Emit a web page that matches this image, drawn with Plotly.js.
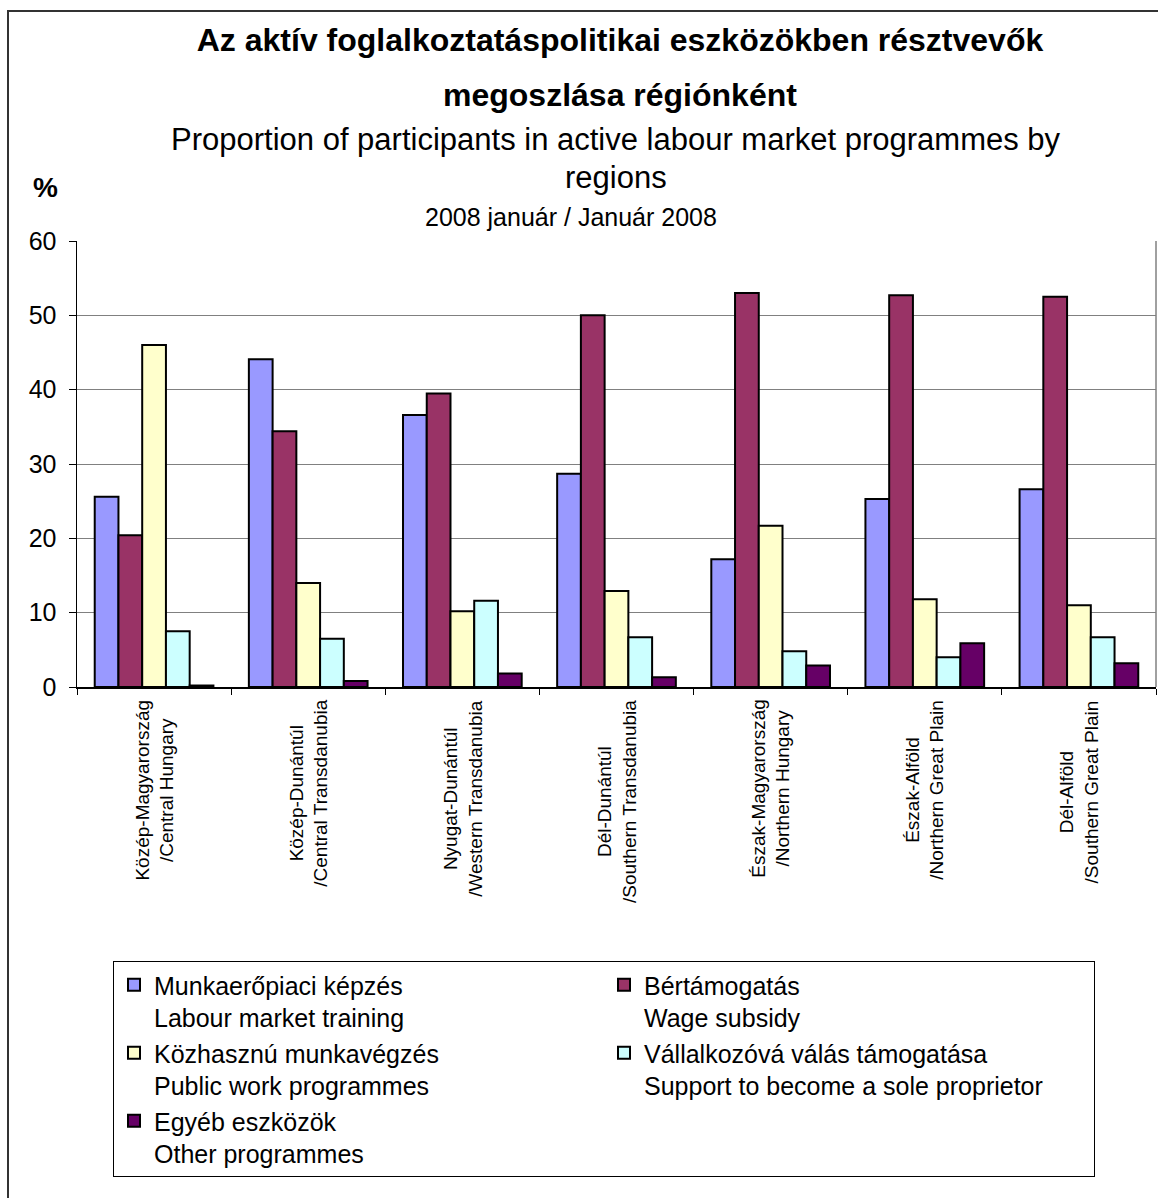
<!DOCTYPE html>
<html>
<head>
<meta charset="utf-8">
<script src="https://cdn.plot.ly/plotly-3.0.1.min.js"></script>
<style>
  html, body { margin: 0; padding: 0; background: #ffffff; }
  #chart { width: 1158px; height: 1198px; }
</style>
</head>
<body>
<div id="chart"></div>
<script>
const categories = [
  "Közép-Magyarország<br>/Central Hungary",
  "Közép-Dunántúl<br>/Central Transdanubia",
  "Nyugat-Dunántúl<br>/Western Transdanubia",
  "Dél-Dunántúl<br>/Southern Transdanubia",
  "Észak-Magyarország<br>/Northern Hungary",
  "Észak-Alföld<br>/Northern Great Plain",
  "Dél-Alföld<br>/Southern Great Plain"
];

const seriesNames = [
  "Munkaerőpiaci képzés<br>Labour market training",
  "Bértámogatás<br>Wage subsidy",
  "Közhasznú munkavégzés<br>Public work programmes",
  "Vállalkozóvá válás támogatása<br>Support to become a sole proprietor",
  "Egyéb eszközök<br>Other programmes"
];

const training      = [25.6, 44.1, 36.6, 28.7, 17.2, 25.3, 26.6];
const wageSubsidy   = [20.4, 34.4, 39.5, 50.0, 53.0, 52.7, 52.5];
const publicWork    = [46.0, 14.0, 10.2, 12.9, 21.7, 11.8, 11.0];
const soleProprietor= [7.5, 6.5, 11.6, 6.7, 4.8, 4.0, 6.7];
const other         = [0.2, 0.8, 1.8, 1.3, 2.9, 5.9, 3.2];

const yTicks = [0, 10, 20, 30, 40, 50, 60];

const titleMain = "<b>Az aktív foglalkoztatáspolitikai eszközökben résztvevők</b>";
const titleMain2 = "<b>megoszlása régiónként</b>";
const titleEn1 = "Proportion of participants in active labour market programmes by";
const titleEn2 = "regions";
const titleDate = "2008 január / Január 2008";
const yUnit = "<b>%</b>";

const colors = ["#9999FF", "#993366", "#FFFFCC", "#CCFFFF", "#660066"];
const values = [training, wageSubsidy, publicWork, soleProprietor, other];

const FONT = "Liberation Sans, Arial, Helvetica, sans-serif";

const traces = values.map((v, i) => ({
  type: "bar",
  name: seriesNames[i],
  x: categories,
  y: v,
  marker: { color: colors[i], line: { color: "#000000", width: 2 } },
  hoverinfo: "x+y+name"
}));

// plot area geometry in pixels
const L = 77, R = 2, T = 241, B = 511;
const W = 1158, H = 1198;
const pw = W - L - R, ph = H - T - B;
const px2x = (px) => (px - L) / pw;
const py2y = (py) => (H - B - py) / ph;

// category labels, centred multi-line, placed on the category axis
const categoryLabels = categories.map((c) => ({
  text: c,
  xref: "x", yref: "paper",
  x: c, y: py2y(698),
  xanchor: "center", yanchor: "top",
  textangle: -90, align: "center",
  showarrow: false,
  font: { family: FONT, size: 19, color: "#000000" }
}));

const layout = {
  width: W,
  height: H,
  margin: { l: L, r: R, t: T, b: B, pad: 0 },
  paper_bgcolor: "#ffffff",
  plot_bgcolor: "#ffffff",
  font: { family: FONT, color: "#000000", size: 25 },
  barmode: "group",
  bargap: 0.23,
  bargroupgap: 0,
  showlegend: true,
  title: {
    text: titleMain,
    font: { family: FONT, size: 32, color: "#000000" },
    x: px2x(620), xref: "paper", xanchor: "center",
    y: 1 - 40 / H, yref: "container", yanchor: "middle"
  },
  xaxis: {
    type: "category",
    tickson: "boundaries",
    ticks: "outside",
    ticklen: 6,
    tickcolor: "#000000",
    showticklabels: false,
    showline: true,
    linecolor: "#000000",
    linewidth: 1.5,
    showgrid: false,
    zeroline: false,
    fixedrange: true
  },
  yaxis: {
    range: [0, 60],
    tickvals: yTicks,
    ticktext: yTicks.map(String),
    ticks: "outside",
    ticklen: 7,
    tickcolor: "#000000",
    ticklabelstandoff: 7,
    tickfont: { family: FONT, size: 25, color: "#000000" },
    showline: true,
    linecolor: "#000000",
    linewidth: 1.5,
    showgrid: true,
    gridcolor: "#808080",
    gridwidth: 1,
    zeroline: false,
    fixedrange: true
  },
  legend: {
    orientation: "h",
    x: px2x(113),
    xanchor: "left",
    y: py2y(961),
    yanchor: "top",
    entrywidth: 445,
    entrywidthmode: "pixels",
    valign: "top",
    traceorder: "normal",
    font: { family: FONT, size: 25, color: "#000000" },
    bgcolor: "#ffffff",
    bordercolor: "#000000",
    borderwidth: 1
  },
  annotations: [
    { text: titleMain2, xref: "paper", yref: "paper", x: px2x(620), y: py2y(95),
      xanchor: "center", yanchor: "middle", showarrow: false,
      font: { family: FONT, size: 32, color: "#000000" } },
    { text: titleEn1, xref: "paper", yref: "paper", x: px2x(616), y: py2y(139),
      xanchor: "center", yanchor: "middle", showarrow: false,
      font: { family: FONT, size: 31, color: "#000000" } },
    { text: titleEn2, xref: "paper", yref: "paper", x: px2x(616), y: py2y(177),
      xanchor: "center", yanchor: "middle", showarrow: false,
      font: { family: FONT, size: 31, color: "#000000" } },
    { text: titleDate, xref: "paper", yref: "paper", x: px2x(571), y: py2y(217),
      xanchor: "center", yanchor: "middle", showarrow: false,
      font: { family: FONT, size: 25, color: "#000000" } },
    { text: yUnit, xref: "paper", yref: "paper", x: px2x(45), y: py2y(187),
      xanchor: "center", yanchor: "middle", showarrow: false,
      font: { family: FONT, size: 28, color: "#000000" } }
  ].concat(categoryLabels),
  shapes: [
    // right border of plot area
    { type: "line", xref: "paper", yref: "paper", x0: 1, x1: 1, y0: 0, y1: 1,
      line: { color: "#808080", width: 1.5 }, layer: "above" },
    // outer chart frame
    { type: "rect", xref: "paper", yref: "paper",
      x0: px2x(8), x1: px2x(1200), y0: py2y(1240), y1: py2y(11),
      line: { color: "#333333", width: 2 }, fillcolor: "rgba(0,0,0,0)", layer: "below" }
  ]
};

Plotly.newPlot("chart", traces, layout, { displayModeBar: false, staticPlot: true });
</script>
</body>
</html>
